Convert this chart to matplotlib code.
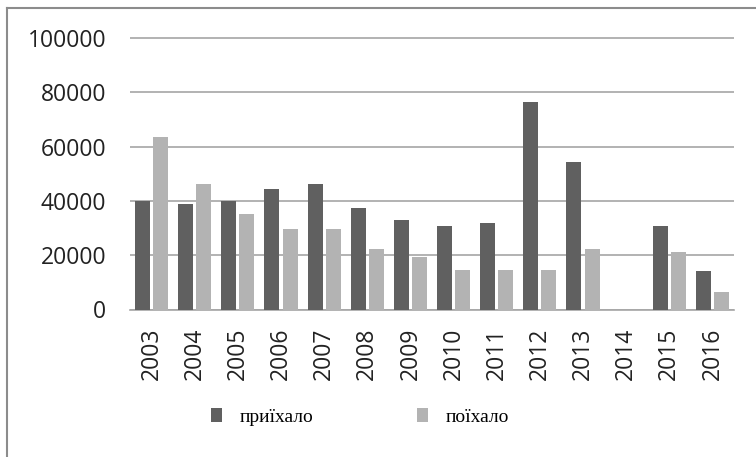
import matplotlib.pyplot as plt
from matplotlib.lines import Line2D
from matplotlib.patches import Patch
import numpy as np

# data
years = ['2003', '2004', '2005', '2006', '2007', '2008', '2009',
         '2010', '2011', '2012', '2013', '2014', '2015', '2016']
arrived = [39800, 38800, 39900, 44500, 46300, 37400, 33000,
           30800, 31700, 76500, 54400, 0, 30800, 14200]
departed = [63700, 46300, 35000, 29800, 29800, 22200, 19500,
            14700, 14700, 14700, 22200, 0, 21300, 6600]
labels = ['приїхало', 'поїхало']

dark = '#606060'
light = '#b3b3b3'

W, H = 756, 457
fig = plt.figure(figsize=(W / 100, H / 100), dpi=100)

# axes placed in pixel terms
left, right = 130, 734
y0, y100 = 309.5, 38
ytop = 102000
h = (y0 - y100) / H * ytop / 100000
ax = fig.add_axes([left / W, (H - y0) / H, (right - left) / W, h])

x = np.arange(len(years))
ax.bar(x - 0.21, arrived, width=0.35, color=dark, zorder=3)
ax.bar(x + 0.21, departed, width=0.35, color=light, zorder=3)

ax.set_xlim(-0.5, len(years) - 0.5)
ax.set_ylim(0, ytop)
ax.set_yticks(np.arange(0, 100001, 20000))
ax.set_yticklabels([str(v) for v in range(0, 100001, 20000)])
ax.set_xticks(x)
ax.set_xticklabels(years, rotation=90)

for t in ax.get_yticklabels() + ax.get_xticklabels():
    t.set_fontfamily(['Open Sans', 'DejaVu Sans'])
    t.set_fontsize(16.5)
    t.set_color('#222222')
ax.tick_params(axis='y', length=0, pad=17)
ax.tick_params(axis='x', length=0, pad=13)

ax.grid(axis='y', color='#a6a6a6', linewidth=1.2, zorder=0)
for s in ['top', 'right', 'left']:
    ax.spines[s].set_visible(False)
ax.spines['bottom'].set_color('#a6a6a6')
ax.spines['bottom'].set_linewidth(1.2)

handles = [Patch(facecolor=dark), Patch(facecolor=light)]
fig.legend(handles, labels, loc='center', bbox_to_anchor=(0.476, 0.087),
           ncol=2, frameon=False, handlelength=0.6, handleheight=0.7,
           handletextpad=0.9, columnspacing=5.3,
           prop=dict(family='Liberation Serif', size=14))

# outer chart border (left and top edges visible)
fig.add_artist(Line2D([7 / W, 7 / W], [0, 1 - 8 / H], color='#8c8c8c',
                      linewidth=1.5, transform=fig.transFigure))
fig.add_artist(Line2D([7 / W, 1], [1 - 8 / H, 1 - 8 / H], color='#8c8c8c',
                      linewidth=1.5, transform=fig.transFigure))

fig.savefig('out.png', dpi=100)
